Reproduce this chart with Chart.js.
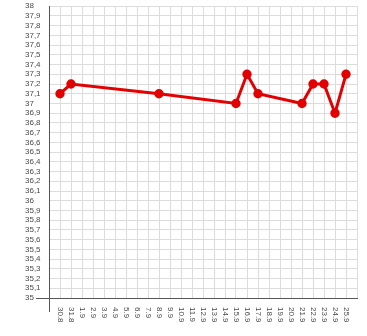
<!doctype html>
<html lang="ru">
  <head>
    <meta charset="utf-8">
    <title>Temperature</title>
    <style>
      * { margin: 0; padding: 0; }
      body { background: #fff; width: 367px; height: 336px; overflow: hidden; }
    </style>
  </head>
  <body>
    <canvas id="tempChart" width="367" height="336"></canvas>
    <script src="https://cdn.jsdelivr.net/npm/chart.js"></script>
    <script>
    // dates on the x axis
    const days = ['30.8', '31.8', '1.9', '2.9', '3.9', '4.9', '5.9', '6.9', '7.9', '8.9',
      '9.9', '10.9', '11.9', '12.9', '13.9', '14.9', '15.9', '16.9', '17.9', '18.9',
      '19.9', '20.9', '21.9', '22.9', '23.9', '24.9', '25.9'];
    // measured temperature, null = no measurement that day
    const temps = [37.1, 37.2, null, null, null, null, null, null, null, 37.1,
      null, null, null, null, null, null, 37.0, 37.3, 37.1, null,
      null, null, 37.0, 37.2, 37.2, 36.9, 37.3];
    const yMin = 35;
    const yMax = 38;
    const yStep = 0.1;

    const points = [];
    temps.forEach((t, i) => { if (t !== null) points.push({ x: i, y: t }); });

    const gridColor = '#dcdcdc';
    const axisColor = '#555';
    const textColor = '#4a4a4a';
    const font = { family: 'Liberation Sans', size: 8 };

    // x labels read top to bottom, so draw them ourselves
    const dayLabels = {
      id: 'dayLabels',
      afterDraw(chart) {
        const sc = chart.scales.x;
        const ctx = chart.ctx;
        ctx.save();
        ctx.fillStyle = textColor;
        ctx.font = font.size + 'px ' + font.family;
        ctx.textAlign = 'left';
        ctx.textBaseline = 'middle';
        days.forEach((d, i) => {
          ctx.save();
          ctx.translate(sc.getPixelForValue(i), sc.top + 9);
          ctx.rotate(Math.PI / 2);
          ctx.fillText(d, 0, 0);
          ctx.restore();
        });
        ctx.restore();
      }
    };

    new Chart(document.getElementById('tempChart'), {
      type: 'line',
      data: {
        datasets: [{
          data: points,
          borderColor: '#e30000',
          backgroundColor: '#e30000',
          borderWidth: 3,
          pointRadius: 3.2,
          pointHoverRadius: 3.2,
          tension: 0
        }]
      },
      options: {
        responsive: false,
        animation: false,
        layout: { padding: { left: 25, top: 5, right: 10, bottom: 0 } },
        plugins: { legend: { display: false }, tooltip: { enabled: false } },
        scales: {
          x: {
            type: 'linear',
            min: -1,
            max: days.length,
            afterFit(scale) { scale.height = 38; },
            ticks: { display: false, stepSize: 1 },
            grid: {
              color: gridColor,
              tickLength: 14,
              tickColor: (c) => (c.tick && c.tick.value === -1 ? axisColor : 'transparent')
            },
            border: { color: axisColor, width: 1 }
          },
          y: {
            min: yMin,
            max: yMax,
            afterFit(scale) { scale.width = 24; },
            ticks: {
              stepSize: yStep,
              autoSkip: false,
              crossAlign: 'far',
              padding: 0,
              color: textColor,
              font: font,
              callback: (v) => String(Math.round(v * 10) / 10).replace('.', ',')
            },
            grid: {
              color: gridColor,
              tickLength: 13,
              tickColor: (c) => (c.tick && Math.abs(c.tick.value - yMin) < 0.001 ? axisColor : 'transparent')
            },
            border: { color: axisColor, width: 1 }
          }
        }
      },
      plugins: [dayLabels]
    });
    </script>
  </body>
</html>
